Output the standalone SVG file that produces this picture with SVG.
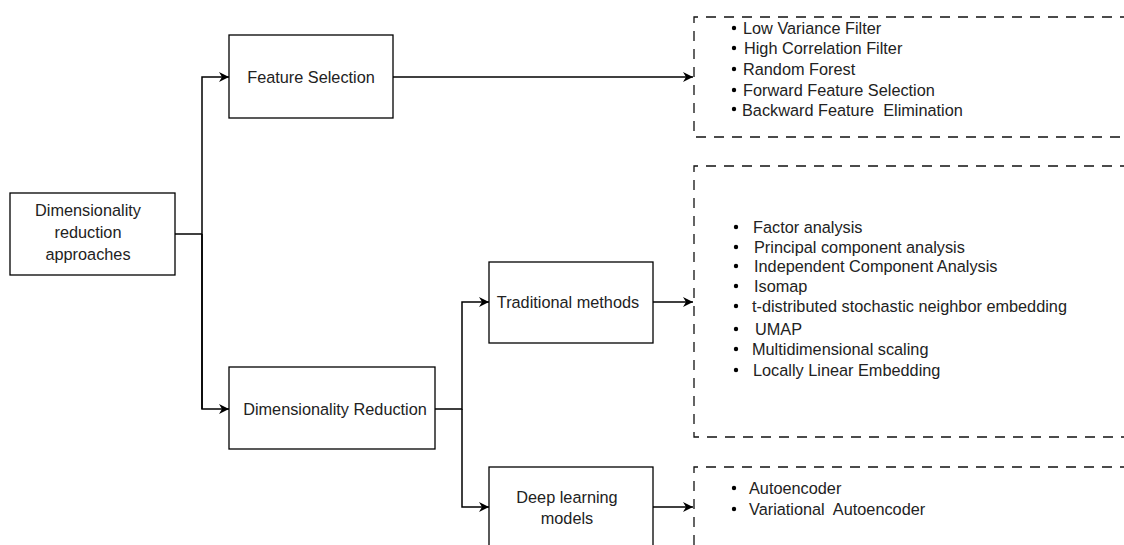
<svg xmlns="http://www.w3.org/2000/svg" width="1124" height="545" viewBox="0 0 1124 545">
<defs>
<style>
.box{fill:#fff;stroke:#000;stroke-width:1.3}
.dash{fill:none;stroke:#111;stroke-width:1.3;stroke-dasharray:10 8}
.lbl{font-family:"Liberation Sans",Arial,sans-serif;font-size:16.3px;fill:#222;text-anchor:middle;dominant-baseline:central}
.item{font-family:"Liberation Sans",Arial,sans-serif;font-size:16.3px;fill:#222;dominant-baseline:central;white-space:pre}
.conn{fill:none;stroke:#000;stroke-width:1.5}
</style>
<marker id="arr" viewBox="0 0 10 10" refX="10" refY="5" markerWidth="10" markerHeight="10" markerUnits="userSpaceOnUse" orient="auto">
<path d="M0,0 L10,5 L0,10 L3,5 z" fill="#000"/>
</marker>
</defs>
<rect width="1124" height="545" fill="#fff"/>

<g id="connectors">
<path class="conn" d="M175,234 H202"/>
<path class="conn" d="M202,409 V77 H229" marker-end="url(#arr)"/>
<path class="conn" d="M202,234 V409 H229" marker-end="url(#arr)"/>
<path class="conn" d="M393,77 H693" marker-end="url(#arr)"/>
<path class="conn" d="M435,409 H462 V302 H489" marker-end="url(#arr)"/>
<path class="conn" d="M462,409 V507 H489" marker-end="url(#arr)"/>
<path class="conn" d="M653,302 H693" marker-end="url(#arr)"/>
<path class="conn" d="M653,507 H693" marker-end="url(#arr)"/>
</g>

<g id="node-approaches">
<rect class="box" x="10" y="193" width="165" height="82"/>
<text class="lbl" x="88" y="210">Dimensionality</text>
<text class="lbl" x="88" y="232">reduction</text>
<text class="lbl" x="88" y="254">approaches</text>
</g>

<g id="node-feature-selection">
<rect class="box" x="229" y="35" width="164" height="83"/>
<text class="lbl" x="311" y="77">Feature Selection</text>
</g>

<g id="node-dim-reduction">
<rect class="box" x="229" y="367" width="206" height="82"/>
<text class="lbl" x="335" y="409">Dimensionality Reduction</text>
</g>

<g id="node-traditional">
<rect class="box" x="489" y="262" width="164" height="81"/>
<text class="lbl" x="568" y="302">Traditional methods</text>
</g>

<g id="node-deep">
<rect class="box" x="489" y="467" width="164" height="90"/>
<text class="lbl" x="567" y="497">Deep learning</text>
<text class="lbl" x="567" y="518">models</text>
</g>

<g id="list-feature-selection">
<path class="dash" d="M1130,17 H694 V137 H1130"/>
<g fill="#000">
<circle cx="734" cy="28" r="2.2"/>
<circle cx="734" cy="48" r="2.2"/>
<circle cx="734" cy="69" r="2.2"/>
<circle cx="734" cy="90" r="2.2"/>
<circle cx="734" cy="109" r="2.2"/>
</g>
<text class="item" x="743" y="28">Low Variance Filter</text>
<text class="item" x="744" y="48">High Correlation Filter</text>
<text class="item" x="743" y="69">Random Forest</text>
<text class="item" x="743" y="90">Forward Feature Selection</text>
<text class="item" x="742" y="110">Backward Feature  Elimination</text>
</g>

<g id="list-traditional">
<path class="dash" d="M1130,166 H694 V437 H1130"/>
<g fill="#000">
<circle cx="736" cy="227" r="2.2"/>
<circle cx="736" cy="247" r="2.2"/>
<circle cx="736" cy="266" r="2.2"/>
<circle cx="736" cy="286" r="2.2"/>
<circle cx="736" cy="306" r="2.2"/>
<circle cx="736" cy="329" r="2.2"/>
<circle cx="736" cy="349" r="2.2"/>
<circle cx="736" cy="370" r="2.2"/>
</g>
<text class="item" x="753" y="227">Factor analysis</text>
<text class="item" x="754" y="247">Principal component analysis</text>
<text class="item" x="754" y="266">Independent Component Analysis</text>
<text class="item" x="754" y="286">Isomap</text>
<text class="item" x="752" y="306">t-distributed stochastic neighbor embedding</text>
<text class="item" x="755" y="329">UMAP</text>
<text class="item" x="752" y="349">Multidimensional scaling</text>
<text class="item" x="753" y="370">Locally Linear Embedding</text>
</g>

<g id="list-deep">
<path class="dash" d="M1130,467 H694 V560"/>
<g fill="#000">
<circle cx="734" cy="488" r="2.2"/>
<circle cx="734" cy="509" r="2.2"/>
</g>
<text class="item" x="749" y="488">Autoencoder</text>
<text class="item" x="749" y="509">Variational  Autoencoder</text>
</g>
</svg>
